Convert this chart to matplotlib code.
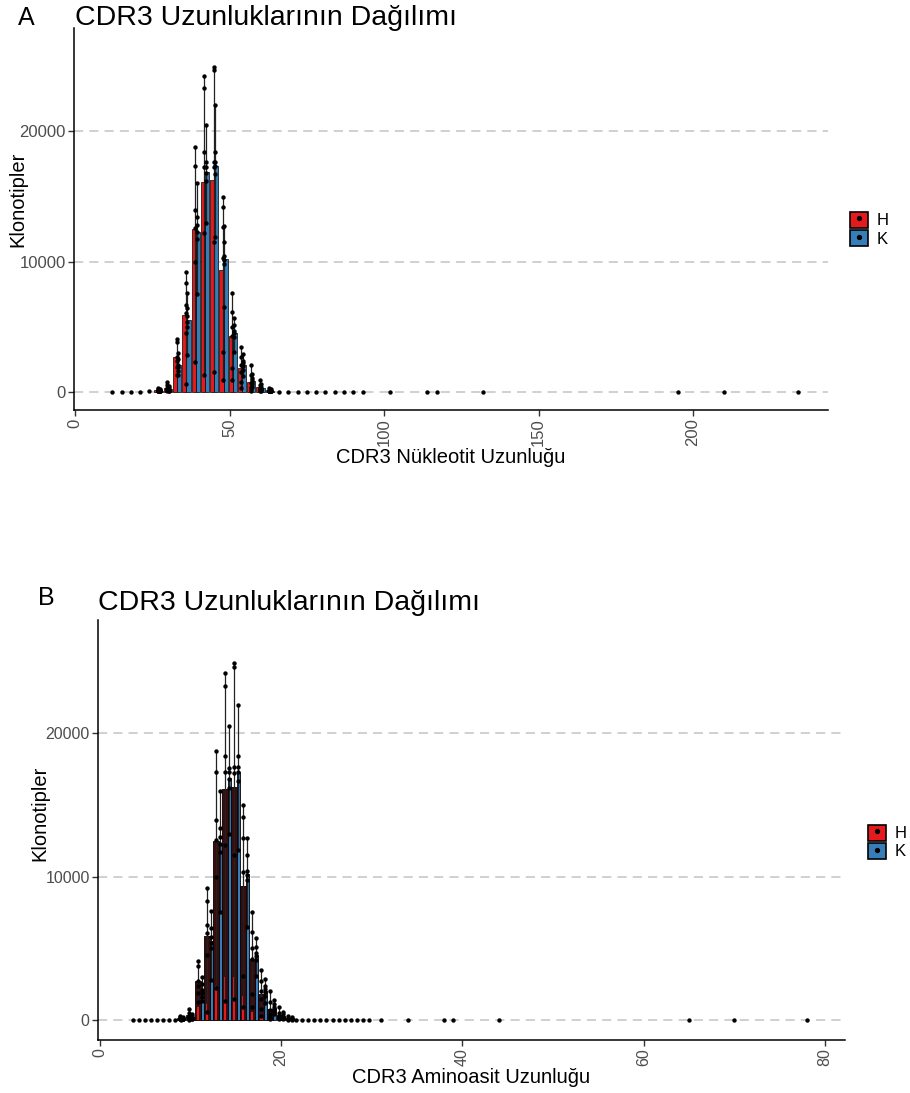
import matplotlib.pyplot as plt
import numpy as np
from matplotlib.patches import Patch
from matplotlib.lines import Line2D

plt.rcParams['font.family'] = ['Liberation Sans', 'DejaVu Sans']

# CDR3 nucleotide lengths with per-sample clonotype counts (H and K groups)
nt_main = [27, 30, 33, 36, 39, 42, 45, 48, 51, 54, 57, 60, 63]
h_samples = [
    [300, 200, 150, 100, 100, 50],
    [800, 500, 300, 200, 140, 40],
    [4100, 3800, 2700, 2400, 1900, 1300],
    [9220, 8330, 6670, 6050, 4530, 600],
    [18750, 17320, 13950, 12540, 9980, 2280],
    [24210, 23270, 18420, 17270, 12210, 1340],
    [24930, 24650, 17650, 11520, 17250, 1500],
    [14970, 14200, 12670, 10300, 3060, 900],
    [7560, 6150, 5000, 4300, 1840, 890],
    [3470, 2700, 2070, 1500, 800, 320],
    [2070, 1300, 700, 400, 210, 60],
    [900, 500, 300, 250, 160, 50],
    [300, 150, 100, 80, 50, 40],
]
k_samples = [
    [200, 150, 80, 60, 60, 50],
    [450, 300, 180, 120, 100, 50],
    [3000, 2500, 2100, 1900, 1600, 1320],
    [7600, 6400, 5800, 5400, 5000, 2800],
    [16000, 13430, 12800, 12290, 11700, 7520],
    [20500, 17600, 17270, 16800, 16200, 12970],
    [22000, 18420, 17650, 17300, 16700, 11850],
    [12700, 11500, 10400, 10100, 9800, 6520],
    [5700, 5100, 4700, 4500, 4200, 3100],
    [2900, 2400, 2200, 2000, 1700, 1220],
    [1400, 1100, 900, 800, 620, 400],
    [600, 400, 250, 200, 150, 80],
    [200, 100, 80, 70, 50, 40],
]

# rare lengths, counts close to zero
nt_tail = [12, 15, 18, 21, 24, 66, 69, 72, 75, 78, 81, 84, 87, 90, 93,
           102, 114, 117, 132, 195, 210, 234]
nt_tail_counts = [5, 8, 12, 20, 40, 30, 20, 15, 10, 8, 6, 5, 4, 3, 3,
                  2, 1, 1, 1, 2, 1, 1]

# amino-acid lengths: main lengths are nucleotide lengths / 3
aa_main = [n / 3 for n in nt_main]
aa_h_low = [0, 0, 900, 1100, 2400, 3000, 3000, 1700, 600, 300, 0, 0, 0]
aa_tail = [3.67, 4.33, 5, 5.67, 6.33, 7, 7.67, 8.33, 9,
           21.67, 22.33, 23, 23.67, 24.33, 25, 25.67, 26.33, 27, 27.67,
           28.33, 29, 29.67, 31, 34, 38, 39, 44, 65, 70, 78]
aa_tail_counts = [5, 5, 6, 8, 10, 12, 15, 20, 40,
                  15, 12, 10, 8, 6, 5, 5, 4, 4, 3,
                  3, 3, 2, 2, 1, 1, 1, 1, 2, 1, 1]

RED = '#e41a1c'
BLUE = '#377eb8'
DARK = '#3a0c0c'
GRID = '#c4c4c4'
TICK = '#4d4d4d'

fig = plt.figure(figsize=(9.1, 10.93), dpi=100)
W, H = 910, 1093


def px_axes(l, t, r, b):
    return fig.add_axes([l / W, 1 - b / H, (r - l) / W, (b - t) / H])


def style(ax, xticks, xlim, xlabel, tick_size):
    ax.set_xlim(*xlim)
    ax.set_ylim(-1380, 27900)
    for y in [0, 10000, 20000]:
        ax.axhline(y, color=GRID, lw=1.1, dashes=(6, 4), zorder=0)
    ax.set_yticks([0, 10000, 20000])
    ax.set_yticklabels(['0', '10000', '20000'])
    ax.set_xticks(xticks)
    ax.set_xticklabels([str(t) for t in xticks], rotation=90)
    ax.tick_params(labelsize=tick_size, labelcolor=TICK, length=4, width=1, color='#333333', pad=2)
    for s in ['top', 'right']:
        ax.spines[s].set_visible(False)
    for s in ['left', 'bottom']:
        ax.spines[s].set_linewidth(1.1)
    ax.set_xlabel(xlabel, fontsize=14.5, labelpad=1)


def samples_draw(ax, xs, samples, lw):
    for x, s in zip(xs, samples):
        ax.vlines(x, min(s), max(s), color='#222222', lw=lw, zorder=3)
        ax.scatter([x] * len(s), s, s=10, color='black', zorder=4, linewidths=0)


def add_legend(ax, x, y):
    handles = [
        (Patch(facecolor=RED, edgecolor='black', lw=1.2),
         Line2D([], [], marker='o', color='black', ls='', ms=2.8)),
        (Patch(facecolor=BLUE, edgecolor='black', lw=1.2),
         Line2D([], [], marker='o', color='black', ls='', ms=2.8)),
    ]
    ax.legend(handles, ['H', 'K'], loc='center left', bbox_to_anchor=(x / W, 1 - y / H),
              bbox_transform=fig.transFigure, frameon=False, fontsize=12,
              handlelength=1.1, handleheight=1.1, handletextpad=0.5,
              labelspacing=0.1, borderpad=0, borderaxespad=0)


h_mean = [np.mean(s) for s in h_samples]
k_mean = [np.mean(s) for s in k_samples]

# A: nucleotide lengths
axA = px_axes(74, 28, 828, 410)
x = np.array(nt_main)
axA.bar(x - 0.675, h_mean, width=1.35, color=RED, edgecolor='black', lw=0.5, zorder=2)
axA.bar(x + 0.675, k_mean, width=1.35, color=BLUE, edgecolor='black', lw=0.5, zorder=2)
samples_draw(axA, x - 0.2, h_samples, 0.9)
samples_draw(axA, x + 0.3, k_samples, 0.9)
axA.scatter(nt_tail, nt_tail_counts, s=10, color='black', zorder=4, linewidths=0)
style(axA, [0, 50, 100, 150, 200], (-0.4, 243.7), 'CDR3 Nükleotit Uzunluğu', 12)
add_legend(axA, 850, 229)

# B: amino-acid lengths
axB = px_axes(98, 620, 845, 1040)
x = np.array(aa_main)
axB.bar(x - 0.175, h_mean, width=0.66, color=DARK, edgecolor='black', lw=0.6, zorder=2)
axB.bar(x - 0.175, aa_h_low, width=0.25, color=RED, lw=0, zorder=2.5)
axB.bar(x + 0.3, k_mean, width=0.3, color=BLUE, edgecolor='black', lw=0.6, zorder=2)
samples_draw(axB, x - 0.2, h_samples, 0.9)
samples_draw(axB, x + 0.22, k_samples, 0.9)
axB.scatter(aa_tail, aa_tail_counts, s=10, color='black', zorder=4, linewidths=0)
style(axB, [0, 20, 40, 60, 80], (-0.2, 82.2), 'CDR3 Aminoasit Uzunluğu', 11.5)
add_legend(axB, 868, 842)

fig.text(18 / W, 1 - 199 / H, 'Klonotipler', fontsize=14.5, rotation=90, ha='center', va='center')
fig.text(40 / W, 1 - 813 / H, 'Klonotipler', fontsize=14.5, rotation=90, ha='center', va='center')

fig.text(18 / W, 1 - 18 / H, 'A', fontsize=18, va='center')
fig.text(75 / W, 1 - 18 / H, 'CDR3 Uzunluklarının Dağılımı', fontsize=20.5, va='center')
fig.text(38 / W, 1 - 598 / H, 'B', fontsize=18, va='center')
fig.text(98 / W, 1 - 603 / H, 'CDR3 Uzunluklarının Dağılımı', fontsize=20.5, va='center')

fig.savefig('out.png', dpi=100, facecolor='white')
